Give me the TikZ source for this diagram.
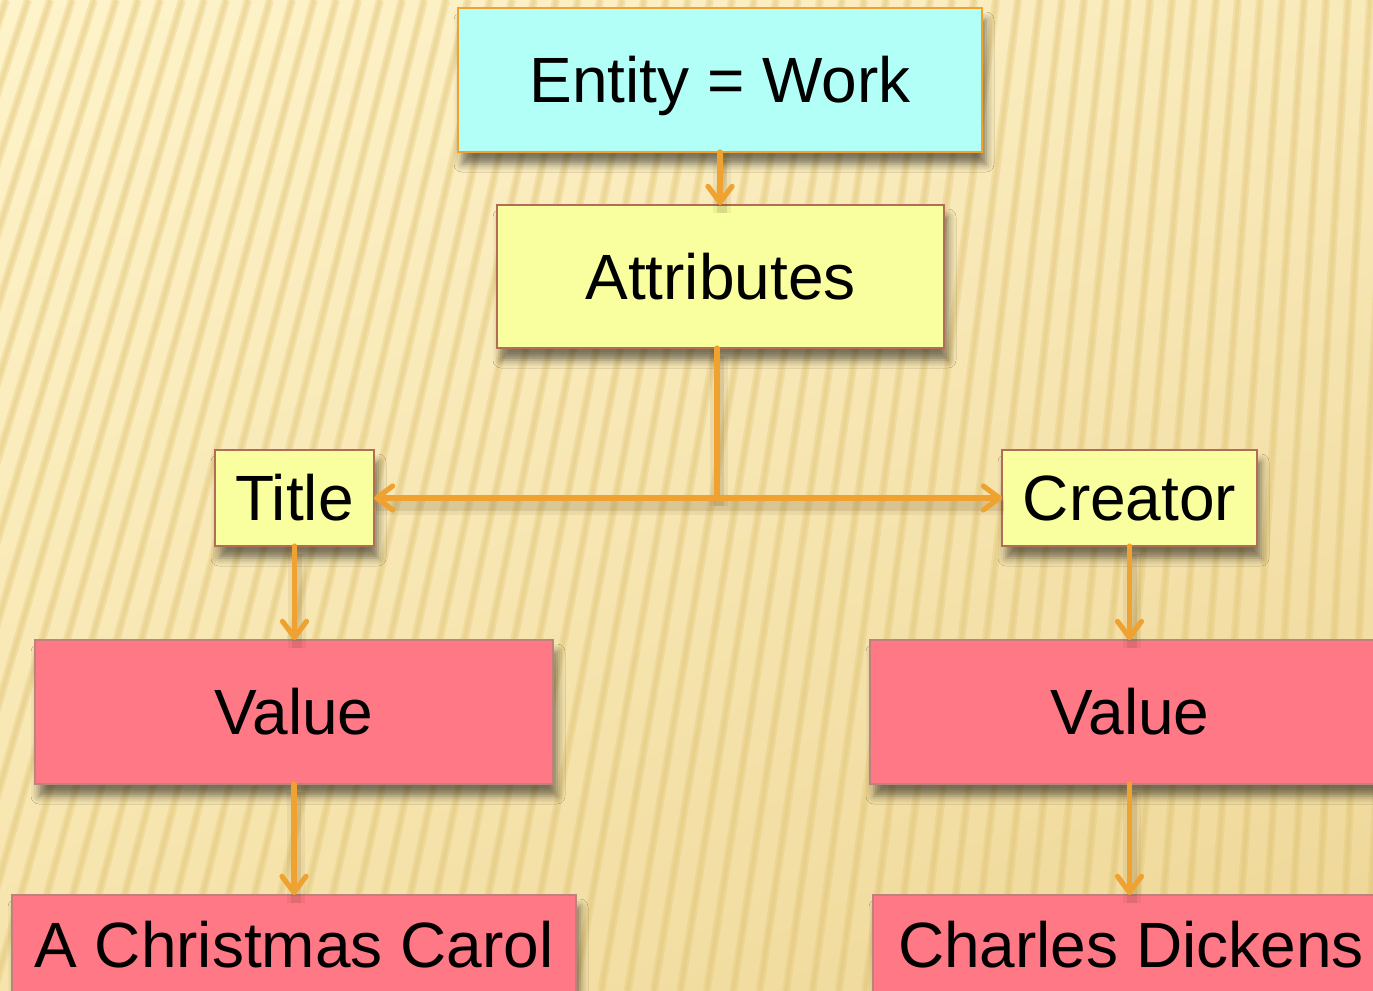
\documentclass[tikz,border=0pt]{standalone}
\usepackage{fontspec}
\setmainfont{Liberation Sans}
\usetikzlibrary{arrows.meta,shadows.blur,shadings}
\definecolor{arr}{RGB}{240,162,48}
\definecolor{cyanfill}{RGB}{178,255,248}
\definecolor{yelfill}{RGB}{249,255,158}
\definecolor{pinkfill}{RGB}{255,120,134}
\definecolor{brownline}{RGB}{176,110,88}
\definecolor{pinkline}{RGB}{190,130,125}
\definecolor{bgA}{RGB}{254,243,202}
\definecolor{bgB}{RGB}{249,234,186}
\definecolor{bgC}{RGB}{246,228,172}
\definecolor{bgD}{RGB}{238,214,150}
\definecolor{stripecol}{RGB}{222,192,110}
\definecolor{shadowcol}{RGB}{90,60,20}
\tikzset{
  box/.style={rectangle, inner sep=0pt, outer sep=0pt, line width=1.1pt,
    font=\fontsize{32}{38}\selectfont, text height=22.9pt, text depth=0pt,
    blur shadow={shadow xshift=2pt, shadow yshift=-6pt, shadow blur radius=4pt, shadow opacity=50}},
  entbox/.style={box, fill=cyanfill, draw=arr},
  attbox/.style={box, fill=yelfill, draw=brownline},
  valbox/.style={box, fill=pinkfill, draw=pinkline},
  conn/.style={draw=arr, line width=2.6pt, line cap=round,
    -{Straight Barb[length=8pt,width=12pt,line cap=round,line join=round]}},
  plainconn/.style={draw=arr, line width=2.6pt, line cap=round},
  connshadow/.style={draw=shadowcol, line width=5pt, opacity=0.12},
  connshadow2/.style={draw=shadowcol, line width=9pt, opacity=0.07},
  stripe/.style={draw=stripecol, line width=4pt, opacity=0.28},
  stripecore/.style={draw=stripecol, line width=1.8pt, opacity=0.25}
}
\begin{document}
\begin{tikzpicture}[x=0.5pt,y=-0.5pt]
\useasboundingbox (0,0) rectangle (1373,991);
% background
\begin{scope}
\clip (0,0) rectangle (1373,991);
\shade[upper left=bgA, upper right=bgB, lower left=bgC, lower right=bgD] (0,0) rectangle (1373,991);
\foreach \t in {-500,-478,...,1700} {
  \draw[stripe] (\t,0) -- ({1.2*\t-330},991);
  \draw[stripecore] (\t,0) -- ({1.2*\t-330},991);
}
\end{scope}

% nodes
\begin{scope}
\clip (0,0) rectangle (1373,991);
\node[entbox, minimum width=262pt, minimum height=72pt] (ent) at (720,80) {Entity = Work};
\node[attbox, minimum width=223.5pt, minimum height=71.5pt] (att) at (720.5,276.5) {Attributes};
\node[attbox, minimum width=79.5pt, minimum height=48pt] (tit) at (294.5,498) {Title};
\node[attbox, minimum width=127.5pt, minimum height=48pt] (cre) at (1129.5,498) {Creator};
\node[valbox, minimum width=259pt, minimum height=72pt] (vl) at (294,712) {Value};
\node[valbox, minimum width=260pt, minimum height=72pt] (vr) at (1130,712) {Value};
\node[valbox, minimum width=282pt, minimum height=50pt] (acc) at (294,945) {A Christmas Carol};
\node[valbox, minimum width=258pt, minimum height=50pt] (cd) at (1131,945) {Charles Dickens};
\coordinate (j) at (717,498);

% connector shadows
\begin{scope}[transform canvas={xshift=1pt,yshift=-4pt}]
\foreach \s in {connshadow,connshadow2}{
  \draw[\s] (ent.south) -- (ent.south |- att.north);
  \draw[\s] (att.south -| j) -- (j);
  \draw[\s] (j) -- (tit.east);
  \draw[\s] (j) -- (cre.west);
  \draw[\s] (tit.south) -- (tit.south |- vl.north);
  \draw[\s] (cre.south) -- (cre.south |- vr.north);
  \draw[\s] (vl.south) -- (vl.south |- acc.north);
  \draw[\s] (cre.south |- vr.south) -- (cre.south |- cd.north);
}
\end{scope}

% connectors
\draw[conn] (ent.south) -- (ent.south |- att.north);
\draw[plainconn] (att.south -| j) -- (j);
\draw[conn] (j) -- (tit.east);
\draw[conn] (j) -- (cre.west);
\draw[conn] (tit.south) -- (tit.south |- vl.north);
\draw[conn] (cre.south) -- (cre.south |- vr.north);
\draw[conn] (vl.south) -- (vl.south |- acc.north);
\draw[conn] (cre.south |- vr.south) -- (cre.south |- cd.north);
\end{scope}
\end{tikzpicture}
\end{document}
